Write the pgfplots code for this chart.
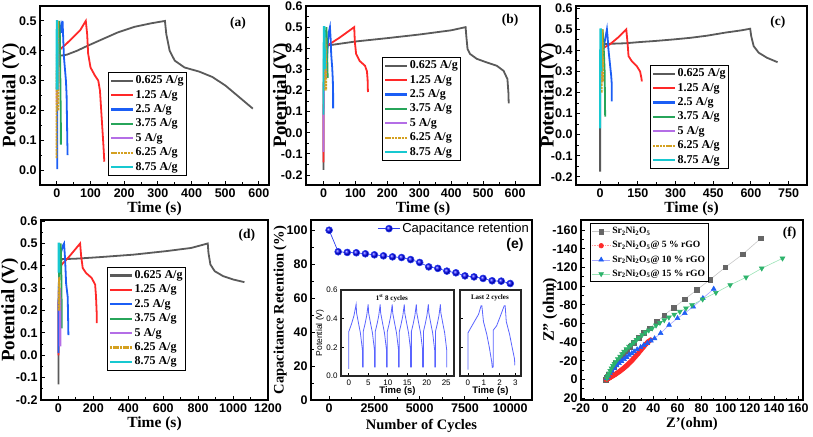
\documentclass[border=0pt]{standalone}
\usepackage{fontspec}
\setmainfont{Liberation Serif}
\newfontfamily\arial{Liberation Sans}
\usepackage{pgfplots}
\pgfplotsset{compat=1.18}

\definecolor{cgray}{HTML}{5A5A5A}
\definecolor{cred}{HTML}{FF2828}
\definecolor{cblue}{HTML}{1B5EF5}
\definecolor{cgreen}{HTML}{27A55A}
\definecolor{cpurple}{HTML}{B46EE6}
\definecolor{corange}{HTML}{D4A020}
\definecolor{ccyan}{HTML}{17C8D0}
\definecolor{cret}{HTML}{2A3CF0}
\definecolor{cins}{HTML}{5A64FF}
\definecolor{fgray}{HTML}{666666}
\definecolor{fred}{HTML}{FF2A2A}
\definecolor{fblue}{HTML}{1F5FF5}
\definecolor{fgreen}{HTML}{2DB36B}

\newcommand\tkf{\arial\bfseries\fontsize{12.5}{13}\selectfont}

\pgfplotsset{
  panel/.style={
    scale only axis,
    axis line style={line width=1.5pt},
    tick align=inside, tick pos=left,
    major tick length=4pt, minor tick length=2.5pt,
    tick style={line width=1pt, black},
    minor x tick num=1, minor y tick num=1,
    tick label style={font=\tkf},
    /pgf/number format/assume math mode=true,
    /pgf/number format/1000 sep={},
    scaled ticks=false,
    xlabel style={font=\bfseries\fontsize{15.5}{17}\selectfont, at={(axis description cs:0.5,0)}, anchor=center, yshift=-24pt},
    ylabel style={font=\bfseries\fontsize{19}{21}\selectfont, anchor=center},
    legend cell align=left,
  },
  gcd/.style={panel,
    yticklabel style={/pgf/number format/.cd, fixed, fixed zerofill, precision=1},
    xlabel={Time (s)}, ylabel={Potential (V)},
    legend style={draw=black, line width=0.8pt, fill=white,
      font=\bfseries\fontsize{12}{13}\selectfont, anchor=north west,
      inner xsep=1.5pt, inner ysep=1pt, row sep=0pt,
      nodes={inner sep=1.6pt, text height=8.6pt, text depth=2.6pt}},
    legend image code/.code={\draw[#1, line width=2.2pt] (0pt,0pt) -- (22pt,0pt);},
  },
  l1/.style={cgray, line width=1.8pt},
  l2/.style={cred, line width=1.8pt},
  l3/.style={cblue, line width=1.8pt},
  l4/.style={cgreen, line width=1.8pt},
  l5/.style={cpurple, line width=1.8pt},
  l6/.style={corange, line width=1.8pt, dash pattern=on 2.5pt off 0.8pt},
  l7/.style={ccyan, line width=1.8pt},
  inset/.style={scale only axis, axis background/.style={fill=white},
    axis line style={line width=1.2pt, black!85}, tick align=inside, tick pos=left,
    major tick length=2.5pt, tick style={line width=0.6pt, black},
    tick label style={font=\arial\fontsize{8}{9}\selectfont},
    /pgf/number format/assume math mode=true,
    xlabel style={font=\arial\bfseries\fontsize{9.5}{10}\selectfont, at={(axis description cs:0.5,0)}, anchor=center, yshift=-15.5pt},
    ylabel style={font=\arial\fontsize{8.5}{9}\selectfont, anchor=center},
    ymin=0, ymax=0.6, ytick={0,0.2,0.4,0.6},
    unbounded coords=jump},
}

\begin{document}
\begin{tikzpicture}[x=1pt,y=1pt]

% ---------- (a)
\begin{axis}[gcd, at={(40pt,251pt)}, anchor=south west, width=229pt, height=179pt,
  xmin=-50, xmax=630, ymin=-0.05, ymax=0.55,
  xtick={0,100,...,600}, ytick={0,0.1,0.2,0.3,0.4,0.5},
  ylabel style={at={(axis description cs:-0.127,0.5)}},
  legend style={at={(axis description cs:0.297,0.631)}}]
\addplot[l1] coordinates {(4,0.386) (15,0.384) (30,0.387) (60,0.400) (90,0.416) (130,0.436) (180,0.461) (230,0.480) (280,0.492) (321,0.500) (325,0.456) (335,0.400) (350,0.367) (379,0.344) (423,0.330) (462,0.312) (501,0.283) (541,0.245) (582,0.206)};
\addplot[l2] coordinates {(10,0.405) (30,0.425) (50,0.447) (70,0.470) (86,0.500) (90,0.456) (93,0.390) (100,0.344) (113,0.317) (123,0.300) (128,0.267) (133,0.178) (138,0.089) (141,0.028)};
\addplot[l3] coordinates {(1,0.003) (1,0.300) (3,0.400) (8,0.450) (12,0.480) (14,0.460) (17,0.500) (19,0.440) (21,0.380) (24,0.340) (27,0.300) (29,0.250) (30,0.180) (31,0.100) (32,0.050)};
\addplot[l4] coordinates {(3,0.300) (5,0.420) (7,0.500) (9,0.450) (10,0.350) (11,0.250) (12,0.150) (12,0.085)};
\addplot[l5] coordinates {(0,0.220) (0,0.270) (1,0.350) (3,0.500) (5,0.350) (5,0.270)};
\addplot[l6] coordinates {(-1,0.040) (-1,0.300) (1,0.450) (3,0.500) (5,0.300) (5,0.200)};
\addplot[l7] coordinates {(-1,0.270) (-1,0.450) (0,0.500) (1,0.500) (2,0.450) (3,0.350) (3,0.270)};
\legend{0.625 A/g,1.25 A/g,2.5 A/g,3.75 A/g,5 A/g,6.25 A/g,8.75 A/g}
\node[font=\bfseries\fontsize{13.5}{14}\selectfont] at (axis description cs:0.865,0.905) {(a)};
\end{axis}

% ---------- (b)
\begin{axis}[gcd, at={(306pt,251pt)}, anchor=south west, width=234pt, height=179pt,
  xmin=-55, xmax=678, ymin=-0.247, ymax=0.6,
  xtick={0,100,...,600}, ytick={-0.2,-0.1,0,0.1,0.2,0.3,0.4,0.5,0.6},
  ylabel style={at={(axis description cs:-0.105,0.5)}},
  legend style={at={(axis description cs:0.325,0.715)}}]
\addplot[l1] coordinates {(0,-0.176) (0,0.200) (1,0.350) (5,0.405) (12,0.413) (100,0.432) (200,0.448) (300,0.465) (400,0.485) (445,0.500) (447,0.460) (451,0.397) (459,0.373) (480,0.350) (511,0.333) (543,0.317) (564,0.293) (576,0.254) (579,0.190) (580,0.139)};
\addplot[l2] coordinates {(0,-0.140) (0,0.100) (2,0.350) (6,0.400) (12,0.413) (50,0.450) (96,0.500) (98,0.430) (102,0.373) (113,0.340) (130,0.317) (136,0.290) (138,0.250) (139,0.193)};
\addplot[l3] coordinates {(10,0.260) (11,0.350) (14,0.440) (17,0.480) (20,0.500) (22,0.450) (24,0.370) (27,0.310) (29,0.250) (30,0.180) (30,0.115)};
\addplot[l4] coordinates {(3,0.300) (6,0.450) (9,0.500) (11,0.420) (12,0.320) (13,0.260)};
\addplot[l5] coordinates {(0,-0.090) (0,0.090) (2,0.300) (5,0.450) (7,0.300) (8,0.260)};
\addplot[l6] coordinates {(3,0.200) (4,0.350) (6,0.450) (8,0.300) (8,0.200)};
\addplot[l7] coordinates {(0,0.086) (0,0.400) (1,0.500) (3,0.500) (4,0.400) (5,0.300)};
\legend{0.625 A/g,1.25 A/g,2.5 A/g,3.75 A/g,5 A/g,6.25 A/g,8.75 A/g}
\node[font=\bfseries\fontsize{13.5}{14}\selectfont] at (axis description cs:0.872,0.92) {(b)};
\end{axis}

% ---------- (c)
\begin{axis}[gcd, at={(576pt,251pt)}, anchor=south west, width=231pt, height=179pt,
  xmin=-96, xmax=823, ymin=-0.239, ymax=0.611,
  xtick={0,150,...,750}, ytick={-0.2,-0.1,0,0.1,0.2,0.3,0.4,0.5,0.6},
  ylabel style={at={(axis description cs:-0.117,0.5)}},
  legend style={at={(axis description cs:0.32,0.67)}}]
\addplot[l1] coordinates {(0,-0.176) (0,0.200) (2,0.400) (7,0.430) (50,0.432) (100,0.434) (160,0.440) (220,0.445) (290,0.452) (360,0.460) (425,0.470) (500,0.485) (560,0.495) (597,0.503) (601,0.468) (611,0.420) (631,0.389) (664,0.365) (706,0.344)};
\addplot[l2] coordinates {(10,0.410) (40,0.430) (70,0.460) (104,0.500) (109,0.436) (113,0.373) (126,0.349) (146,0.325) (159,0.300) (164,0.270) (166,0.253)};
\addplot[l3] coordinates {(12,0.400) (18,0.440) (24,0.480) (27,0.500) (30,0.460) (33,0.405) (40,0.325) (44,0.280) (46,0.245) (46,0.158)};
\addplot[l4] coordinates {(3,0.300) (6,0.450) (10,0.500) (14,0.420) (18,0.300) (19,0.200) (20,0.086)};
\addplot[l5] coordinates {(2,0.250) (4,0.400) (6,0.500) (8,0.350) (9,0.250)};
\addplot[l6] coordinates {(6,0.200) (7,0.350) (9,0.500) (11,0.350) (11,0.250)};
\addplot[l7] coordinates {(0,0.030) (0,0.400) (1,0.500) (3,0.500) (4,0.400) (5,0.300)};
\legend{0.625 A/g,1.25 A/g,2.5 A/g,3.75 A/g,5 A/g,6.25 A/g,8.75 A/g}
\node[font=\bfseries\fontsize{13.5}{14}\selectfont] at (axis description cs:0.874,0.91) {(c)};
\end{axis}

% ---------- (d)
\begin{axis}[gcd, at={(41pt,36pt)}, anchor=south west, width=227pt, height=180pt,
  xmin=-100, xmax=1200, ymin=-0.2, ymax=0.605,
  xtick={0,200,...,1200}, ytick={-0.2,-0.1,0,0.1,0.2,0.3,0.4,0.5,0.6},
  ylabel style={at={(axis description cs:-0.137,0.5)}},
  legend style={at={(axis description cs:0.29,0.739)}}]
\addplot[l1] coordinates {(0,-0.130) (0,0.200) (4,0.400) (19,0.430) (100,0.432) (238,0.439) (429,0.450) (619,0.466) (760,0.480) (855,0.500) (859,0.458) (870,0.406) (895,0.376) (943,0.354) (1000,0.339) (1065,0.327)};
\addplot[l2] coordinates {(0,0.000) (0,0.200) (5,0.380) (19,0.406) (60,0.440) (124,0.500) (130,0.443) (139,0.390) (158,0.368) (190,0.346) (210,0.316) (215,0.264) (219,0.189) (219,0.144)};
\addplot[l3] coordinates {(0,0.010) (0,0.200) (5,0.420) (15,0.460) (25,0.490) (32,0.500) (38,0.430) (44,0.320) (53,0.260) (57,0.090)};
\addplot[l4] coordinates {(3,0.350) (8,0.450) (13,0.500) (16,0.400) (18,0.250) (19,0.120)};
\addplot[l5] coordinates {(8,0.040) (8,0.200) (10,0.300) (12,0.200) (12,0.040)};
\addplot[l6] coordinates {(2,0.200) (2,0.260) (4,0.350) (6,0.300) (6,0.200)};
\addplot[l7] coordinates {(0,0.370) (0,0.500) (3,0.500) (5,0.400) (6,0.370)};
\legend{0.625 A/g,1.25 A/g,2.5 A/g,3.75 A/g,5 A/g,6.25 A/g,8.75  A/g}
\node[font=\bfseries\fontsize{13.5}{14}\selectfont] at (axis description cs:0.907,0.917) {(d)};
\end{axis}

% ---------- (e)
\begin{axis}[panel, at={(311pt,36pt)}, anchor=south west, width=221pt, height=180pt,
  xmin=-1000, xmax=11200, ymin=0, ymax=106,
  xtick={0,2500,5000,7500,10000}, ytick={0,20,40,60,80,100},
  xlabel={Number of Cycles}, ylabel={Capacitance Retention (\%)},
  xlabel style={font=\bfseries\fontsize{14.5}{16}\selectfont, yshift=-2pt},
  ylabel style={font=\bfseries\fontsize{14.5}{16}\selectfont, at={(axis description cs:-0.14,0.5)}},
  legend style={draw=none, fill=none, font=\arial\fontsize{13}{14}\selectfont,
    at={(axis description cs:1.0,1.0)}, anchor=north east, inner sep=1pt},
  legend image code/.code={\draw[mark repeat=2,mark phase=2,#1] plot coordinates {(0pt,0pt) (11pt,0pt) (22pt,0pt)};}]
\addplot[color=cret, line width=0.7pt, mark=ball, mark size=3.4pt, mark options={ball color=blue}] coordinates {
(0,100) (500,87.3) (1000,86.9) (1500,86.7) (2000,86.1) (2500,85.5) (3000,84.9) (3500,84.3) (4000,83.9) (4500,82.7) (5000,81.0) (5500,78.4) (6000,77.5) (6500,75.9) (7000,74.9) (7500,73.1) (8000,72.5) (8500,71.6) (9000,70.2) (9500,70.0) (10000,68.6)};
\addlegendentry{Capacitance retention}
\node[font=\arial\bfseries\fontsize{14}{15}\selectfont] at (axis description cs:0.923,0.86) {(e)};
\end{axis}

% inset 1
\begin{axis}[inset, at={(341pt,60pt)}, anchor=south west, width=113pt, height=86pt,
  xmin=-2, xmax=27, xtick={0,5,10,15,20,25},
  yticklabel style={/pgf/number format/.cd, fixed, fixed zerofill, precision=1},
  xlabel={Time (s)}, ylabel={Potential (V)},
  ylabel style={at={(axis description cs:-0.186,0.5)}}]
\addplot[cins, line width=0.8pt] coordinates {
(0,0.05) (0,0.31) (0.66,0.36) (1.32,0.42) (1.88,0.5) (2.0,0.44) (2.48,0.37) (2.98,0.30) (3.33,0.22) (3.5,0.18) (3.5,0.06) (nan,nan)
(3.7,0.06) (3.7,0.31) (4.14,0.36) (4.59,0.42) (4.97,0.5) (5.09,0.44) (5.57,0.37) (6.07,0.30) (6.42,0.22) (6.59,0.18) (6.59,0.06) (nan,nan)
(6.79,0.06) (6.79,0.31) (7.23,0.36) (7.68,0.42) (8.06,0.5) (8.18,0.44) (8.66,0.37) (9.16,0.30) (9.51,0.22) (9.68,0.18) (9.68,0.06) (nan,nan)
(9.88,0.06) (9.88,0.31) (10.32,0.36) (10.77,0.42) (11.15,0.5) (11.27,0.44) (11.75,0.37) (12.25,0.30) (12.60,0.22) (12.77,0.18) (12.77,0.06) (nan,nan)
(12.97,0.06) (12.97,0.31) (13.41,0.36) (13.86,0.42) (14.24,0.5) (14.36,0.44) (14.84,0.37) (15.34,0.30) (15.69,0.22) (15.86,0.18) (15.86,0.06) (nan,nan)
(16.06,0.06) (16.06,0.31) (16.50,0.36) (16.95,0.42) (17.33,0.5) (17.45,0.44) (17.93,0.37) (18.43,0.30) (18.78,0.22) (18.95,0.18) (18.95,0.06) (nan,nan)
(19.15,0.06) (19.15,0.31) (19.59,0.36) (20.04,0.42) (20.42,0.5) (20.54,0.44) (21.02,0.37) (21.52,0.30) (21.87,0.22) (22.04,0.18) (22.04,0.06) (nan,nan)
(22.24,0.06) (22.24,0.31) (22.68,0.36) (23.13,0.42) (23.51,0.5) (23.63,0.44) (24.11,0.37) (24.61,0.30) (24.96,0.22) (25.13,0.18) (25.13,0.06)};
\node[font=\bfseries\fontsize{7}{8}\selectfont] at (axis description cs:0.45,0.905) {1\textsuperscript{st} 8 cycles};
\end{axis}

% inset 2
\begin{axis}[inset, at={(460pt,60pt)}, anchor=south west, width=61pt, height=86pt,
  xmin=-0.5, xmax=3.35, xtick={0,1,2,3}, yticklabels={},
  xlabel={Time (s)}]
\addplot[cins, line width=0.8pt] coordinates {
(0,0.045) (0,0.30) (0.15,0.33) (0.46,0.39) (0.67,0.43) (0.83,0.49) (0.88,0.49) (0.98,0.38) (1.19,0.29) (1.35,0.20) (1.50,0.10) (1.54,0.056) (nan,nan)
(1.6,0.06) (1.6,0.32) (1.81,0.35) (2.02,0.41) (2.29,0.49) (2.35,0.49) (2.42,0.38) (2.63,0.29) (2.79,0.20) (2.94,0.12) (2.96,0.075)};
\node[font=\bfseries\fontsize{7}{8}\selectfont] at (axis description cs:0.49,0.905) {Last 2 cycles};
\end{axis}

% ---------- (f)
\begin{axis}[panel, at={(581pt,36pt)}, anchor=south west, width=222pt, height=180pt,
  xmin=-20, xmax=164, ymin=-170.7, ymax=21.8, y dir=reverse,
  xtick={-20,0,20,40,60,80,100,120,140,160}, ytick={-160,-140,-120,-100,-80,-60,-40,-20,0,20},
  xlabel={Z'(ohm)}, ylabel={Z'' (ohm)},
  xlabel style={font=\bfseries\fontsize{14.5}{16}\selectfont},
  ylabel style={font=\bfseries\fontsize{16}{18}\selectfont, at={(axis description cs:-0.14,0.5)}},
  legend style={draw=black, line width=1pt, fill=white, font=\bfseries\fontsize{9.6}{10}\selectfont,
    at={(axis description cs:0.04,0.983)}, anchor=north west, inner xsep=1.5pt, inner ysep=1pt,
    row sep=0pt, nodes={inner sep=1.8pt, text height=7.5pt, text depth=3pt}},
  legend image code/.code={\draw[mark repeat=2,mark phase=2,#1] plot coordinates {(0pt,0pt) (9pt,0pt) (18pt,0pt)};}]
\addplot[draw=gray!45, line width=0.6pt, mark=square*, mark size=2.3pt, mark options={draw=fgray, fill=fgray, solid}] coordinates {
(0.5,0) (1.5,-2) (3,-5) (5,-9) (7,-13) (9,-17) (11,-20) (13,-24) (15,-27) (18,-31) (21,-35) (24,-39.5) (28,-45) (32,-50) (37,-55) (43,-62) (49,-69) (57,-77) (66,-86) (76,-96) (87,-107) (99.5,-120) (114,-134) (129,-151)};
\addplot[draw=red!40, line width=0.6pt, densely dotted, mark=*, mark size=2.3pt, mark options={draw=fred, fill=fred, solid}] coordinates {
(1,0) (2,-0.7) (3,-1.4) (4,-2.1) (5,-2.9) (6,-3.7) (7,-4.5) (8,-5.3) (9,-6.1) (10,-7) (11,-7.9) (12,-8.8) (13,-9.8) (14,-10.8) (15,-11.8) (16,-12.9) (17,-14) (18,-15.1) (19,-16.3) (20,-17.6) (21,-18.9) (22,-20.2) (23,-21.6) (24,-23) (25,-24.5) (26,-26) (27,-27.5) (28,-29) (29,-30.6) (30,-32.2) (31,-33.8) (32,-35.3) (33,-36.8) (34,-38.2) (35,-39.5) (36,-40.8) (37.7,-42.4)};
\addplot[draw=blue!35, line width=0.6pt, mark=triangle*, mark size=2.7pt, mark options={draw=fblue, fill=fblue, solid}] coordinates {
(1.4,-1.4) (2.5,-4) (4,-6.8) (5.5,-9.5) (7.4,-12) (9.5,-15) (11.5,-17.5) (13.5,-19.8) (15.7,-21.8) (17.8,-24) (19.8,-26.3) (22,-28) (24,-30) (26.5,-32.2) (29.4,-34.6) (32,-36.8) (35,-38.9) (38,-41.5) (41,-44) (46,-49.6) (53,-58.4) (60,-65.6) (66,-71) (73,-78) (81,-87) (90,-97)};
\addplot[draw=green!45!teal!40, line width=0.6pt, mark=triangle*, mark size=2.7pt, mark options={draw=fgreen, fill=fgreen, solid, rotate=180}] coordinates {
(1.4,-1.4) (2.3,-4) (3.3,-6.8) (4.2,-9.5) (5.2,-12.1) (6.5,-14.8) (7.7,-17) (8.8,-19.2) (10.5,-22) (12.4,-24.6) (14,-27.5) (15.7,-30) (17.7,-32.7) (19.8,-35.3) (21.8,-37.6) (23.9,-39.9) (26,-42.5) (28,-44.9) (30.7,-47.8) (33.5,-50.6) (36.2,-52.8) (39,-54.9) (42.2,-58) (45.4,-60.9) (49,-63.7) (52.8,-66.6) (57.3,-69.6) (61.9,-72.7) (67,-76.3) (72,-79.8) (80.8,-85.9) (91.8,-93) (103.6,-101.2) (116.8,-109.4) (129.8,-119) (147,-129.7)};
\legend{Sr\textsubscript{2}Ni\textsubscript{2}O\textsubscript{5},
Sr\textsubscript{2}Ni\textsubscript{2}O\textsubscript{5}@ 5 \% rGO,
Sr\textsubscript{2}Ni\textsubscript{2}O\textsubscript{5}@ 10 \% rGO,
Sr\textsubscript{2}Ni\textsubscript{2}O\textsubscript{5}@ 15 \% rGO}
\node[font=\bfseries\fontsize{13.5}{14}\selectfont] at (axis description cs:0.94,0.928) {(f)};
\end{axis}

\pgfresetboundingbox
\path[use as bounding box] (0,0) rectangle (813,436);
\end{tikzpicture}
\end{document}
